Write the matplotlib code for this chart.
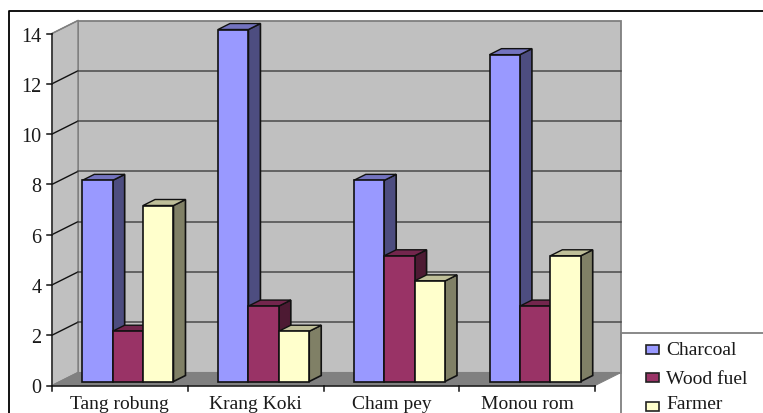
import numpy as np
import matplotlib
matplotlib.use('Agg')
import matplotlib.pyplot as plt
from matplotlib.patches import Polygon, Rectangle

categories = ["Tang robung", "Krang Koki", "Cham pey", "Monou rom"]
series_names = ["Charcoal", "Wood fuel", "Farmer"]
charcoal = [8, 14, 8, 13]
wood_fuel = [2, 3, 5, 3]
farmer = [7, 2, 4, 5]
y_ticks = [0, 2, 4, 6, 8, 10, 12, 14]

series_values = [charcoal, wood_fuel, farmer]
front_colors = ["#9999FF", "#993366", "#FFFFCC"]
side_colors = ["#4D4D80", "#4D1A33", "#808066"]
top_colors = ["#7373BF", "#73264D", "#BFBF99"]

W, H = 763, 414
plt.rcParams['font.family'] = ['Liberation Serif', 'DejaVu Serif']

fig = plt.figure(figsize=(W / 100, H / 100), dpi=100)

# front plane of the box: 52..595 px across, y 386.5..34.5 px down the image
ax = fig.add_axes([52 / W, 1 - 386.5 / H, (595 - 52) / W, 352 / H])
ax.set_xlim(0, len(categories))
ax.set_ylim(0, 14)
ax.axis('off')

# oblique depth of the box in data units
depth_x = 26 / (595 - 52) * len(categories)
depth_y = 13 / 352 * 14


def shifted(x, y, d):
    return (x + d * depth_x, y + d * depth_y)


def face(points, fc, ec, lw, z):
    ax.add_patch(Polygon(points, closed=True, facecolor=fc, edgecolor=ec,
                         linewidth=lw, zorder=z, clip_on=False, joinstyle='miter'))


n = len(categories)
wall_edge = "#7f7f7f"
text_color = "#1a1a1a"
# back wall, side wall, floor
face([shifted(0, 0, 1), shifted(n, 0, 1), shifted(n, 14, 1), shifted(0, 14, 1)],
     "#C0C0C0", wall_edge, 1.3, 1)
face([(0, 0), shifted(0, 0, 1), shifted(0, 14, 1), (0, 14)], "#C0C0C0", wall_edge, 1.0, 1)
face([(0, 0), (n, 0), shifted(n, 0, 1), shifted(0, 0, 1)], "#808080", "#808080", 0.8, 1)

# gridlines run along the side wall and across the back
for v in y_ticks[1:]:
    p0 = shifted(0, v, 1)
    p1 = shifted(n, v, 1)
    ax.plot([0, p0[0]], [v, p0[1]], color="#111111" if v < 14 else wall_edge,
            lw=1.0, zorder=2, clip_on=False)
    if v < 14:
        ax.plot([p0[0], p1[0]], [p0[1], p1[1]], color="#4a4a4a", lw=1.1, zorder=2,
                clip_on=False)

# axis lines and tick marks
ax.plot([0, 0], [0, 14], color="#333333", lw=1.2, zorder=3, clip_on=False)
ax.plot([0, n], [0, 0], color="#222222", lw=1.2, zorder=3, clip_on=False)
tick_x = 5 / (595 - 52) * n
tick_y = 5 / 352 * 14
for v in y_ticks:
    ax.plot([-tick_x, 0], [v, v], color="#111111", lw=1.1, zorder=3, clip_on=False)
    ax.text(-10.5 / (595 - 52) * n, v, str(v), ha='right', va='center_baseline',
            fontsize=14.5, color=text_color)
for i in range(n + 1):
    ax.plot([i, i], [0, -tick_y], color="#111111", lw=1.1, zorder=3, clip_on=False)
for i, name in enumerate(categories):
    ax.text(i + 0.5, -23 / 352 * 14, name, ha='center', va='baseline', fontsize=14,
            color=text_color)

# 3D bars: front face at 4/13 of the depth, bar depth about 6/13
bar_w = 30.4 / (595 - 52) * n
gap = (1 - 3 * bar_w) / 2
d0 = 4 / 13
d1 = d0 + 6 / 13
z = 5
for i in range(n):
    for j, values in enumerate(series_values):
        left = i + gap + j * bar_w
        right = left + bar_w
        v = values[i]
        fx0, fy0 = shifted(left, 0, d0)
        fx1, _ = shifted(right, 0, d0)
        ftop = shifted(left, v, d0)[1]
        # side face
        face([(fx1, fy0), shifted(right, 0, d1), shifted(right, v, d1), (fx1, ftop)],
             side_colors[j], "#111111", 1.2, z)
        # top face
        face([(fx0, ftop), (fx1, ftop), shifted(right, v, d1), shifted(left, v, d1)],
             top_colors[j], "#111111", 1.0, z)
        z += 1
        ax.bar(fx0, v, width=fx1 - fx0, bottom=fy0, align='edge', color=front_colors[j],
               edgecolor="#111111", linewidth=1.2, zorder=z, clip_on=False)
        z += 1

# outer frame, only top and left edges show
fig.add_artist(plt.Line2D([9 / W, 9 / W, 1], [0, 1 - 12 / H, 1 - 12 / H], color="black", lw=1.3))

# legend panel in the lower right corner
fig.add_artist(plt.Line2D([621 / W, 621 / W, 1], [0, 1 - 334 / H, 1 - 334 / H], color="#808080", lw=1.3))
legend_y = [350, 378.5, 407.5]
legend_baseline = [355, 384, 409.5]
for name, fc, y, b in zip(series_names, front_colors, legend_y, legend_baseline):
    fig.add_artist(Rectangle((645.5 / W, 1 - (y + 4.5) / H), 13 / W, 9 / H, facecolor=fc,
                             edgecolor="#222222", linewidth=1.2, transform=fig.transFigure))
    fig.text(666 / W, 1 - b / H, name, ha='left', va='baseline', fontsize=14, color=text_color)

fig.savefig('out.png', dpi=100)
